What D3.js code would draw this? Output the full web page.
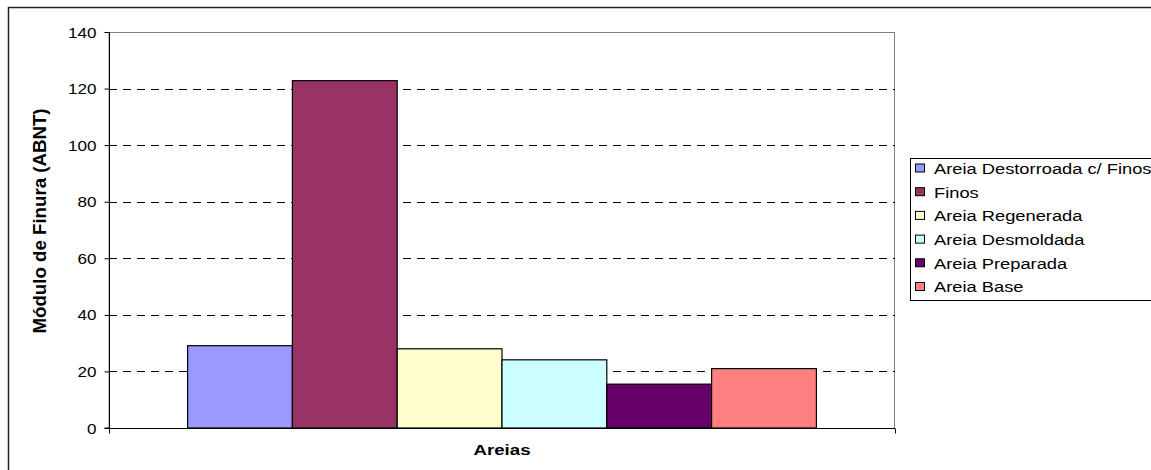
<!DOCTYPE html>
<html>
<head>
<meta charset="utf-8">
<script src="https://cdn.jsdelivr.net/npm/d3@7"></script>
<style>
  html, body { margin: 0; padding: 0; background: #fff; }
  svg { display: block; font-family: "Liberation Sans", Arial, sans-serif; }
</style>
</head>
<body>
<svg id="chart" width="1151" height="470"></svg>
<script>
// ---- data ----
const categories = ["Areias"];
const seriesNames = ["Areia Destorroada c/ Finos", "Finos", "Areia Regenerada", "Areia Desmoldada", "Areia Preparada", "Areia Base"];
const seriesValues = [29.1, 122.8, 28.0, 24.1, 15.5, 21.0];
const seriesColors = ["#9999FF", "#993366", "#FFFFCC", "#CCFFFF", "#660066", "#FF8080"];
const yTicks = [0, 20, 40, 60, 80, 100, 120, 140];
const yTitle = "Módulo de Finura (ABNT)";
const xTitle = "Areias";

// ---- layout ----
const svg = d3.select("#chart");
const plot = { left: 109, right: 895, top: 32, bottom: 428 };
const sx = 1.22; // horizontal text stretch seen in reference

// chart area border
svg.append("rect")
  .attr("x", 8.5).attr("y", 7.5)
  .attr("width", 1160).attr("height", 480)
  .attr("fill", "#fff").attr("stroke", "#222").attr("stroke-width", 1.5);

const y = d3.scaleLinear().domain([0, 140]).range([plot.bottom, plot.top]);
const x0 = d3.scaleBand().domain(categories).range([plot.left, plot.right])
  .paddingInner(0.2).paddingOuter(0.1);
const x1 = d3.scaleBand().domain(seriesNames).range([0, x0.bandwidth()]).padding(0);

// plot area frame (top/right gray)
svg.append("rect")
  .attr("x", plot.left).attr("y", plot.top + 0.5)
  .attr("width", plot.right - plot.left - 0.5).attr("height", plot.bottom - plot.top)
  .attr("fill", "#fff").attr("stroke", "#808080").attr("stroke-width", 1);

// gridlines
svg.append("g").selectAll("line")
  .data(yTicks.filter(d => d > 0 && d < 140))
  .join("line")
  .attr("x1", plot.left).attr("x2", plot.right)
  .attr("y1", d => Math.round(y(d)) + 0.5).attr("y2", d => Math.round(y(d)) + 0.5)
  .attr("stroke", "#000").attr("stroke-width", 1)
  .attr("stroke-dasharray", "8,6");

// bars
const barG = svg.append("g");
categories.forEach(cat => {
  barG.selectAll("rect.bar")
    .data(seriesNames.map((s, i) => ({ s, v: seriesValues[i], c: seriesColors[i] })))
    .join("rect")
    .attr("class", "bar")
    .attr("x", d => x0(cat) + x1(d.s))
    .attr("y", d => y(d.v))
    .attr("width", x1.bandwidth())
    .attr("height", d => y(0) - y(d.v))
    .attr("fill", d => d.c)
    .attr("stroke", "#000").attr("stroke-width", 1.2);
});

// y axis
const yAxis = d3.axisLeft(y).tickValues(yTicks).tickSize(5).tickFormat(d3.format("d"));
const yg = svg.append("g").attr("transform", `translate(${plot.left + 0.5},0)`).call(yAxis);
yg.select(".domain").attr("stroke", "#000").attr("d", `M-5,${y(0)}H0V${plot.top}`);
yg.selectAll(".tick line").attr("stroke", "#000");
yg.selectAll(".tick text").remove();
yg.selectAll(".tick").append("text")
  .attr("transform", `translate(-13,0) scale(${sx},1)`)
  .attr("text-anchor", "end").attr("dy", "0.36em")
  .attr("font-size", 14).attr("fill", "#000")
  .text(d => d);

// x axis
const xAxis = d3.axisBottom(x0).tickSize(0).tickFormat("");
const xg = svg.append("g").attr("transform", `translate(0,${plot.bottom + 0.5})`).call(xAxis);
xg.select(".domain").attr("stroke", "#000").attr("d", `M${plot.left},0H${plot.right}`);
xg.selectAll(".tick").remove();
xg.append("g").selectAll("line").data([plot.left, plot.right]).join("line")
  .attr("x1", d => d + 0.5).attr("x2", d => d + 0.5)
  .attr("y1", 0).attr("y2", 5).attr("stroke", "#000");

// x title
svg.append("text")
  .attr("x", (plot.left + plot.right) / 2).attr("y", 455)
  .attr("text-anchor", "middle")
  .attr("font-size", 14).attr("font-weight", "bold")
  .attr("textLength", 57).attr("lengthAdjust", "spacingAndGlyphs")
  .text(xTitle);

// y title
svg.append("text")
  .attr("transform", `translate(46,221) rotate(-90) scale(1,1.2)`)
  .attr("text-anchor", "middle")
  .attr("font-size", 16).attr("font-weight", "bold")
  .attr("textLength", 225).attr("lengthAdjust", "spacingAndGlyphs")
  .text(yTitle);

// legend
const legend = svg.append("g");
legend.append("rect")
  .attr("x", 910.5).attr("y", 158.5)
  .attr("width", 260).attr("height", 142)
  .attr("fill", "#fff").attr("stroke", "#000").attr("stroke-width", 1);
const rows = legend.selectAll("g.row")
  .data(seriesNames.map((s, i) => ({ s, c: seriesColors[i], i })))
  .join("g").attr("class", "row")
  .attr("transform", d => `translate(0,${168.5 + d.i * 23.7})`);
rows.append("rect")
  .attr("x", 915.5).attr("y", -4.5)
  .attr("width", 9).attr("height", 8)
  .attr("fill", d => d.c).attr("stroke", "#000").attr("stroke-width", 1);
rows.append("text")
  .attr("transform", `translate(934,0) scale(${sx},1)`)
  .attr("dy", "0.36em")
  .attr("font-size", 15).attr("fill", "#000")
  .text(d => d.s);
</script>
</body>
</html>
